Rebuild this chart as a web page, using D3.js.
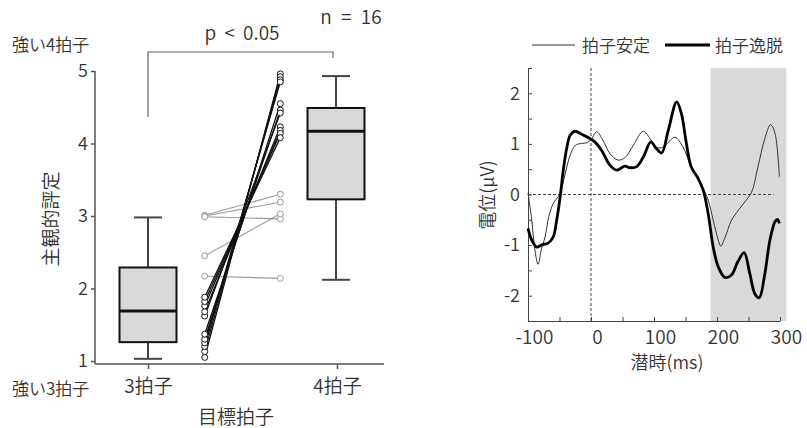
<!DOCTYPE html>
<html><head><meta charset="utf-8">
<script src="https://cdn.jsdelivr.net/npm/d3@7"></script>
<style>
body{margin:0;background:#fff;}
text{font-family:"Noto Sans CJK JP","Noto Sans",sans-serif;fill:#333;font-weight:350;}
</style></head>
<body><svg id="c" width="807" height="428"></svg>
<script>
// ---------- Left panel data ----------
const groups = ["3拍子", "4拍子"];
const boxLow = [1.03, 2.12];
const boxQ1 = [1.26, 3.23];
const boxMedian = [1.69, 4.17];
const boxQ3 = [2.29, 4.49];
const boxHigh = [2.98, 4.93];
const ratingTicks = [1, 2, 3, 4, 5];
// paired subject ratings (3拍子 -> 4拍子)
const pairBlack3 = [1.05, 1.13, 1.20, 1.25, 1.30, 1.37, 1.62, 1.68, 1.76, 1.82, 1.88];
const pairBlack4 = [4.96, 4.92, 4.88, 4.85, 4.55, 4.46, 4.42, 4.23, 4.18, 4.14, 4.08];
const pairGray3 = [3.01, 3.00, 2.99, 2.45, 2.17];
const pairGray4 = [3.30, 3.19, 2.96, 3.03, 2.14];

// ---------- Right panel data ----------
const timeTicks = [-100, 0, 100, 200, 300];
const voltTicks = [-2.5, -2, -1.5, -1, -0.5, 0, 0.5, 1, 1.5, 2, 2.5];
const shadedWindow = [190, 310];
const timeStable = [-100, -94, -89, -84, -79, -73, -67, -60, -49, -41, -33, -25, -15, -7, 1, 9, 19, 30, 43, 54, 67, 83, 94, 104, 115, 133, 146, 157, 168, 178, 186, 194, 202, 206, 213, 223, 234, 244, 255, 265, 276, 285, 292, 299];
const eegStable = [0.03, -0.51, -1.1, -1.38, -1.1, -0.84, -0.44, -0.18, 0.02, 0.41, 0.78, 0.97, 1.01, 1.02, 1.1, 1.24, 1.07, 0.81, 0.68, 0.73, 0.97, 1.25, 1.1, 0.93, 0.94, 1.13, 0.94, 0.61, 0.35, 0.12, -0.11, -0.51, -0.90, -1.02, -0.84, -0.51, -0.31, -0.15, 0.05, 0.55, 1.11, 1.38, 1.21, 0.35];
const timeDeviant = [-100, -94, -86, -79, -68, -60, -54.5, -49, -44, -38.6, -33, -25, -15, -4, 6, 16.5, 30, 41, 53.5, 62, 72.5, 83, 95, 103, 112, 122.7, 136, 143.5, 151.4, 159, 170, 178, 186, 194, 202, 212.7, 223, 233, 243, 252, 260, 267, 276, 284, 292, 296, 299];
const eegDeviant = [-0.67, -0.90, -1.04, -1.0, -0.96, -0.84, -0.51, -0.05, 0.48, 0.91, 1.17, 1.25, 1.19, 1.12, 1.04, 0.88, 0.58, 0.48, 0.56, 0.53, 0.55, 0.74, 1.04, 0.92, 0.82, 1.27, 1.83, 1.60, 1.01, 0.55, 0.32, 0.09, -0.38, -1.04, -1.43, -1.64, -1.59, -1.33, -1.15, -1.56, -1.96, -2.04, -1.56, -0.90, -0.54, -0.49, -0.57];

const svg = d3.select("#c");
svg.append("rect").attr("width", 807).attr("height", 428).attr("fill", "#fff");

// ================= LEFT PANEL =================
const yL = d3.scaleLinear().domain([1, 5]).range([361, 71]);
const xL = d3.scaleLinear().domain([0, 1]).range([148, 337]);
const axisY0 = 364, axisX0 = 95, axisX1 = 384;
const L = svg.append("g");
const axisCol = "#555";

L.append("line").attr("x1", axisX0).attr("x2", axisX0).attr("y1", yL(5)).attr("y2", axisY0).attr("stroke", axisCol).attr("stroke-width", 1.5);
L.append("line").attr("x1", axisX0).attr("x2", axisX1).attr("y1", axisY0).attr("y2", axisY0).attr("stroke", axisCol).attr("stroke-width", 1.5);

const yAx = L.append("g").attr("transform", `translate(${axisX0},0)`)
  .call(d3.axisLeft(yL).tickValues(ratingTicks).tickSize(4).tickPadding(3).tickFormat(d3.format("d")));
yAx.select(".domain").remove();
yAx.selectAll("line").attr("stroke", axisCol).attr("stroke-width", 1.5);
yAx.selectAll("text").attr("font-size", 18).attr("fill", "#333").style("font-family", '"Noto Sans CJK JP"').style("font-weight", 350);

const xAx = L.append("g").attr("transform", `translate(0,${axisY0})`)
  .call(d3.axisBottom(xL).tickValues([0, 1]).tickSize(5).tickPadding(7).tickFormat((d, i) => groups[i]));
xAx.select(".domain").remove();
xAx.selectAll("line").attr("stroke", axisCol).attr("stroke-width", 1.5);
xAx.selectAll("text").attr("font-size", 19).attr("fill", "#333").attr("dy", "0.9em").style("font-family", '"Noto Sans CJK JP"').style("font-weight", 350);

const boxW = 57, capW = 28;
groups.forEach((g, i) => {
  const cx = xL(i) - (i === 1 ? 1 : 0);
  L.append("line").attr("x1", cx).attr("x2", cx).attr("y1", yL(boxHigh[i])).attr("y2", yL(boxLow[i])).attr("stroke", "#444").attr("stroke-width", 2);
  L.append("line").attr("x1", cx - capW / 2).attr("x2", cx + capW / 2).attr("y1", yL(boxHigh[i])).attr("y2", yL(boxHigh[i])).attr("stroke", "#444").attr("stroke-width", 2);
  L.append("line").attr("x1", cx - capW / 2).attr("x2", cx + capW / 2).attr("y1", yL(boxLow[i])).attr("y2", yL(boxLow[i])).attr("stroke", "#444").attr("stroke-width", 2);
  L.append("rect").attr("x", cx - boxW / 2).attr("width", boxW).attr("y", yL(boxQ3[i])).attr("height", yL(boxQ1[i]) - yL(boxQ3[i]))
    .attr("fill", "#d9d9d9").attr("stroke", "#111").attr("stroke-width", 2);
  L.append("line").attr("x1", cx - boxW / 2).attr("x2", cx + boxW / 2).attr("y1", yL(boxMedian[i])).attr("y2", yL(boxMedian[i])).attr("stroke", "#111").attr("stroke-width", 3);
});

const px0 = 0.30, px1 = 0.70;
function drawPairs(a, b, col, w) {
  a.forEach((v, i) => {
    L.append("line").attr("x1", xL(px0)).attr("x2", xL(px1)).attr("y1", yL(v)).attr("y2", yL(b[i])).attr("stroke", col).attr("stroke-width", w);
  });
}
function drawPts(a, b, col) {
  a.forEach((v, i) => {
    L.append("circle").attr("cx", xL(px0)).attr("cy", yL(v)).attr("r", 3).attr("fill", "#fff").attr("stroke", col).attr("stroke-width", 1);
    L.append("circle").attr("cx", xL(px1)).attr("cy", yL(b[i])).attr("r", 3).attr("fill", "#fff").attr("stroke", col).attr("stroke-width", 1);
  });
}
drawPairs(pairGray3, pairGray4, "#9a9a9a", 1.1);
drawPairs(pairBlack3, pairBlack4, "#111", 1.3);
drawPts(pairGray3, pairGray4, "#9a9a9a");
drawPts(pairBlack3, pairBlack4, "#111");

L.append("path").attr("d", `M${xL(0)},117 V52 H333 V58`).attr("fill", "none").attr("stroke", "#666").attr("stroke-width", 1.2);
L.append("text").attr("x", 242).attr("y", 40).attr("text-anchor", "middle").attr("font-size", 19).attr("word-spacing", 4).style("white-space", "pre").text("p < 0.05");
L.append("text").attr("x", 351).attr("y", 24).attr("text-anchor", "middle").attr("font-size", 19).attr("word-spacing", 5).style("white-space", "pre").text("n = 16");

L.append("text").attr("x", 12).attr("y", 51).attr("font-size", 17).text("強い4拍子");
L.append("text").attr("x", 12).attr("y", 395).attr("font-size", 17).text("強い3拍子");
L.append("text").attr("x", 236).attr("y", 424).attr("text-anchor", "middle").attr("font-size", 19).text("目標拍子");
L.append("text").attr("transform", "translate(58,219) rotate(-90)").attr("text-anchor", "middle").attr("font-size", 19).text("主観的評定");

// ================= RIGHT PANEL =================
const xR = d3.scaleLinear().domain([-100, 300]).range([528, 780]);
const yR = d3.scaleLinear().domain([-2.5, 2.5]).range([321, 68]);
const R = svg.append("g");

R.append("rect").attr("x", xR(shadedWindow[0])).attr("width", xR(shadedWindow[1]) - xR(shadedWindow[0]))
  .attr("y", yR(2.5)).attr("height", yR(-2.5) - yR(2.5)).attr("fill", "#d9d9d9");

R.append("line").attr("x1", xR(-100)).attr("x2", xR(290)).attr("y1", yR(0)).attr("y2", yR(0)).attr("stroke", "#444").attr("stroke-width", 1).attr("stroke-dasharray", "3,2");
R.append("line").attr("x1", xR(0)).attr("x2", xR(0)).attr("y1", yR(2.5)).attr("y2", yR(-2.5)).attr("stroke", "#444").attr("stroke-width", 1).attr("stroke-dasharray", "3,2");

const ryAx = R.append("g").attr("transform", `translate(${xR(-100)},0)`)
  .call(d3.axisLeft(yR).tickValues(voltTicks).tickSizeInner(-4).tickSizeOuter(0).tickPadding(8)
    .tickFormat(d => Number.isInteger(d) && Math.abs(d) <= 2 ? String(d) : ""));
ryAx.select(".domain").attr("stroke", "#444");
ryAx.selectAll("line").attr("stroke", "#444");
ryAx.selectAll("text").attr("font-size", 18).attr("fill", "#333").style("font-family", '"Noto Sans CJK JP"').style("font-weight", 350);

const rxAx = R.append("g").attr("transform", `translate(0,${yR(-2.5)})`)
  .call(d3.axisBottom(xR).tickValues(d3.range(-100, 301, 50)).tickSizeInner(-4).tickSizeOuter(0).tickPadding(10)
    .tickFormat(d => timeTicks.includes(d) ? String(d) : ""));
rxAx.select(".domain").attr("stroke", "#444");
rxAx.selectAll("line").attr("stroke", "#444");
rxAx.selectAll("text").attr("font-size", 19).attr("fill", "#333").attr("dx", 6).style("font-family", '"Noto Sans CJK JP"').style("font-weight", 350);

const lineGen = (ts) => d3.line().x((d, i) => xR(ts[i])).y(d => yR(d)).curve(d3.curveCatmullRom.alpha(0.5));
R.append("path").attr("d", lineGen(timeStable)(eegStable)).attr("fill", "none").attr("stroke", "#333").attr("stroke-width", 1);
R.append("path").attr("d", lineGen(timeDeviant)(eegDeviant)).attr("fill", "none").attr("stroke", "#000").attr("stroke-width", 2.8);

R.append("text").attr("x", 667).attr("y", 369).attr("text-anchor", "middle").attr("font-size", 18).text("潜時(ms)");
R.append("text").attr("transform", "translate(494,195) rotate(-90)").attr("text-anchor", "middle").attr("font-size", 18).text("電位(μV)");

R.append("line").attr("x1", 532).attr("x2", 575).attr("y1", 45).attr("y2", 45).attr("stroke", "#333").attr("stroke-width", 1);
R.append("text").attr("x", 582).attr("y", 52).attr("font-size", 17).text("拍子安定");
R.append("line").attr("x1", 665).attr("x2", 710).attr("y1", 45).attr("y2", 45).attr("stroke", "#000").attr("stroke-width", 2.8);
R.append("text").attr("x", 715).attr("y", 52).attr("font-size", 17).text("拍子逸脱");
</script></body></html>
